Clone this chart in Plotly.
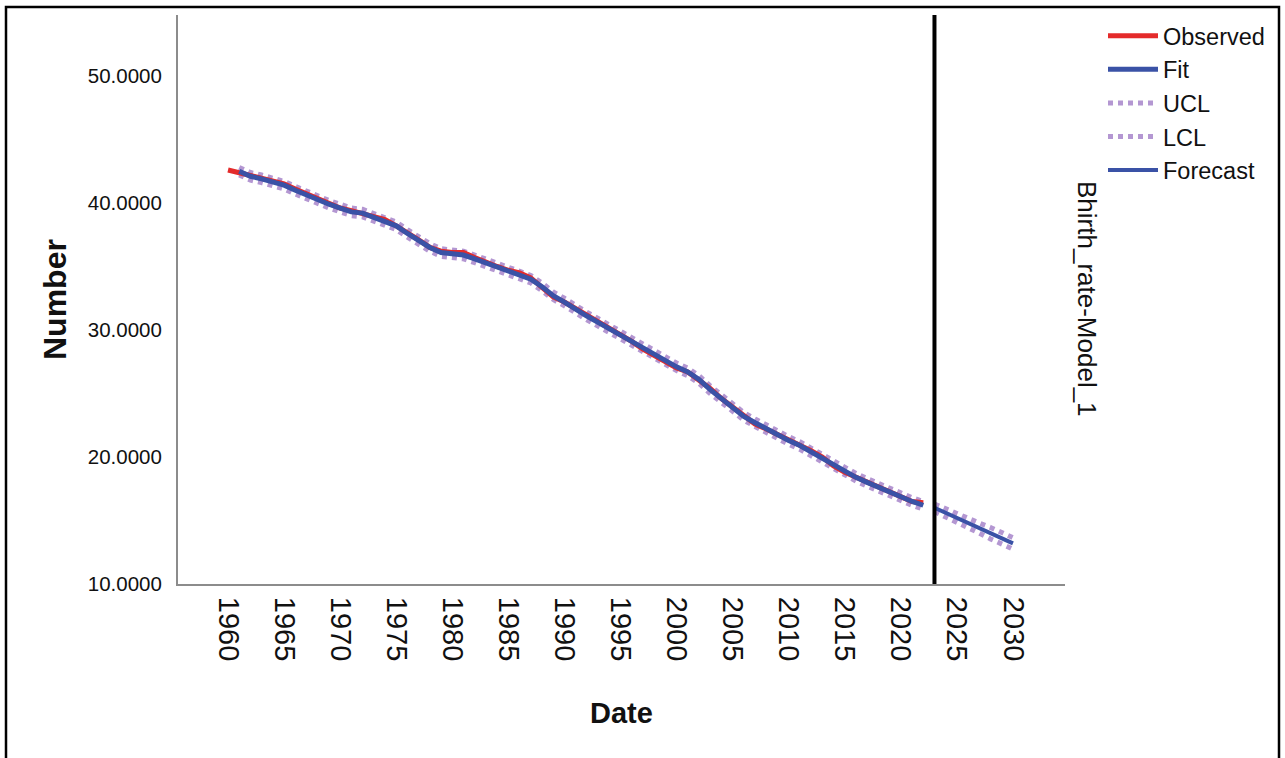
import plotly.graph_objects as go

# ---------------- data ----------------
obs_years = list(range(1960, 2023))
observed = [42.6, 42.4, 42.2, 42.0, 41.8, 41.5, 41.1, 40.7, 40.3, 39.9,
            39.6, 39.4, 39.2, 39.0, 38.7, 38.2, 37.7, 37.1, 36.5, 36.2,
            36.1, 36.1, 35.7, 35.3, 35.0, 34.7, 34.5, 34.1, 33.3, 32.6,
            32.2, 31.7, 31.1, 30.6, 30.1, 29.6, 29.1, 28.5, 28.0, 27.5,
            27.0, 26.7, 26.1, 25.4, 24.6, 23.9, 23.2, 22.6, 22.2, 21.8,
            21.3, 20.9, 20.5, 20.0, 19.3, 18.8, 18.4, 18.0, 17.6, 17.2,
            16.8, 16.5, 16.4]

fit_years = list(range(1961, 2023))
fit = [42.5, 42.1, 41.9, 41.7, 41.4, 41.0, 40.6, 40.2, 39.9,
       39.6, 39.3, 39.2, 38.9, 38.6, 38.2, 37.6, 37.0, 36.5, 36.1,
       36.0, 35.9, 35.6, 35.3, 35.0, 34.7, 34.4, 34.0, 33.4, 32.7,
       32.2, 31.6, 31.1, 30.6, 30.1, 29.6, 29.0, 28.5, 28.0, 27.5,
       27.1, 26.7, 26.1, 25.3, 24.6, 23.9, 23.2, 22.7, 22.2, 21.8,
       21.3, 20.9, 20.4, 19.9, 19.3, 18.8, 18.4, 18.0, 17.6, 17.2,
       16.8, 16.5, 16.2]

fc_years = list(range(2023, 2031))
forecast = [16.0, 15.6, 15.2, 14.8, 14.4, 14.0, 13.6, 13.2]

# confidence limits: estimation period, gap, forecast period
cl_years = fit_years + [None] + fc_years
ucl = [42.8, 42.4, 42.2, 42.0, 41.7, 41.3, 40.9, 40.5, 40.2,
       39.9, 39.6, 39.5, 39.2, 38.9, 38.5, 37.9, 37.3, 36.8, 36.4,
       36.3, 36.2, 35.9, 35.6, 35.3, 35.0, 34.7, 34.3, 33.7, 33.0,
       32.5, 31.9, 31.4, 30.9, 30.4, 29.9, 29.3, 28.8, 28.3, 27.8,
       27.4, 27.0, 26.4, 25.6, 24.9, 24.2, 23.5, 23.0, 22.5, 22.1,
       21.6, 21.2, 20.7, 20.2, 19.6, 19.1, 18.7, 18.3, 17.9, 17.5,
       17.1, 16.8, 16.5,
       None,
       16.3, 15.9, 15.55, 15.2, 14.8, 14.45, 14.05, 13.65]
lcl = [42.2, 41.8, 41.6, 41.4, 41.1, 40.7, 40.3, 39.9, 39.6,
       39.3, 39.0, 38.9, 38.6, 38.3, 37.9, 37.3, 36.7, 36.2, 35.8,
       35.7, 35.6, 35.3, 35.0, 34.7, 34.4, 34.1, 33.7, 33.1, 32.4,
       31.9, 31.3, 30.8, 30.3, 29.8, 29.3, 28.7, 28.2, 27.7, 27.2,
       26.8, 26.4, 25.8, 25.0, 24.3, 23.6, 22.9, 22.4, 21.9, 21.5,
       21.0, 20.6, 20.1, 19.6, 19.0, 18.5, 18.1, 17.7, 17.3, 16.9,
       16.5, 16.2, 15.9,
       None,
       15.7, 15.3, 14.85, 14.4, 14.0, 13.55, 13.15, 12.75]

x_ticks = list(range(1960, 2031, 5))
y_ticks = [10, 20, 30, 40, 50]
cutoff_year = 2023
series_label = "Bhirth_rate-Model_1"

# ---------------- styling ----------------
RED = "#e42b2b"
BLUE = "#3a52a6"
PURPLE = "#b497d2"
FONT = "Liberation Sans, Arial, sans-serif"
INK = "#111111"

fig = go.Figure()

fig.add_trace(go.Scatter(x=cl_years, y=ucl, mode="lines", name="UCL",
                         line=dict(color=PURPLE, width=5, dash="5px,5px"),
                         connectgaps=False, legendrank=3))
fig.add_trace(go.Scatter(x=cl_years, y=lcl, mode="lines", name="LCL",
                         line=dict(color=PURPLE, width=5, dash="5px,5px"),
                         connectgaps=False, legendrank=4))
fig.add_trace(go.Scatter(x=obs_years, y=observed, mode="lines", name="Observed",
                         line=dict(color=RED, width=5), legendrank=1))
fig.add_trace(go.Scatter(x=fit_years, y=fit, mode="lines", name="Fit",
                         line=dict(color=BLUE, width=5), legendrank=2))
fig.add_trace(go.Scatter(x=fc_years, y=forecast, mode="lines", name="Forecast",
                         line=dict(color=BLUE, width=4), legendrank=5))

L, R, T, B = 178, 220, 15, 174
W, H = 1285, 758
pw, ph = W - L - R, H - T - B

def px_x(p):
    return (p - L) / pw

def px_y(p):
    return (H - B - p) / ph

fig.update_layout(
    width=W, height=H,
    margin=dict(l=L, r=R, t=T, b=B, autoexpand=False),
    paper_bgcolor="white", plot_bgcolor="white",
    font=dict(family=FONT, color=INK),
    showlegend=True,
    legend=dict(x=px_x(1103), y=px_y(14), xanchor="left", yanchor="top",
                font=dict(family=FONT, size=23.5, color=INK),
                itemwidth=50, bgcolor="rgba(0,0,0,0)", tracegroupgap=0),
    xaxis=dict(range=[1955.54, 2034.64], tickvals=x_ticks,
               ticktext=[str(v) for v in x_ticks], tickangle=90,
               tickfont=dict(size=29, family=FONT, color=INK),
               showgrid=False, zeroline=False, showline=True,
               linecolor="#8c8c8c", linewidth=2, ticks="",
               ticklabelstandoff=5, fixedrange=True),
    yaxis=dict(range=[10, 54.8], tickvals=y_ticks,
               ticktext=[f"{v:.4f}" for v in y_ticks],
               tickfont=dict(size=20.5, family=FONT, color=INK),
               showgrid=False, zeroline=False, showline=True,
               linecolor="#8c8c8c", linewidth=2, ticks="",
               ticklabelstandoff=10, fixedrange=True),
    shapes=[
        dict(type="line", xref="x", yref="paper", x0=cutoff_year, x1=cutoff_year,
             y0=0, y1=1, line=dict(color="black", width=4)),
        dict(type="rect", xref="paper", yref="paper",
             x0=px_x(6), x1=px_x(1279), y0=px_y(7), y1=px_y(790),
             line=dict(color="black", width=2.5), fillcolor="rgba(0,0,0,0)"),
    ],
    annotations=[
        dict(text="<b>Number</b>", xref="paper", yref="paper",
             x=px_x(55), y=px_y(300), textangle=-90, showarrow=False,
             font=dict(family=FONT, size=32, color=INK),
             xanchor="center", yanchor="middle"),
        dict(text="<b>Date</b>", xref="paper", yref="paper",
             x=px_x(621), y=px_y(713), showarrow=False,
             font=dict(family=FONT, size=29, color=INK),
             xanchor="center", yanchor="middle"),
        dict(text=series_label, xref="paper", yref="paper",
             x=px_x(1087), y=px_y(299), textangle=90, showarrow=False,
             font=dict(family=FONT, size=26, color=INK),
             xanchor="center", yanchor="middle"),
    ],
)

fig.write_html("out.html",
               config={"displayModeBar": False},
               post_script="document.body.style.margin='0px';"
                           "document.body.style.overflow='hidden';")
